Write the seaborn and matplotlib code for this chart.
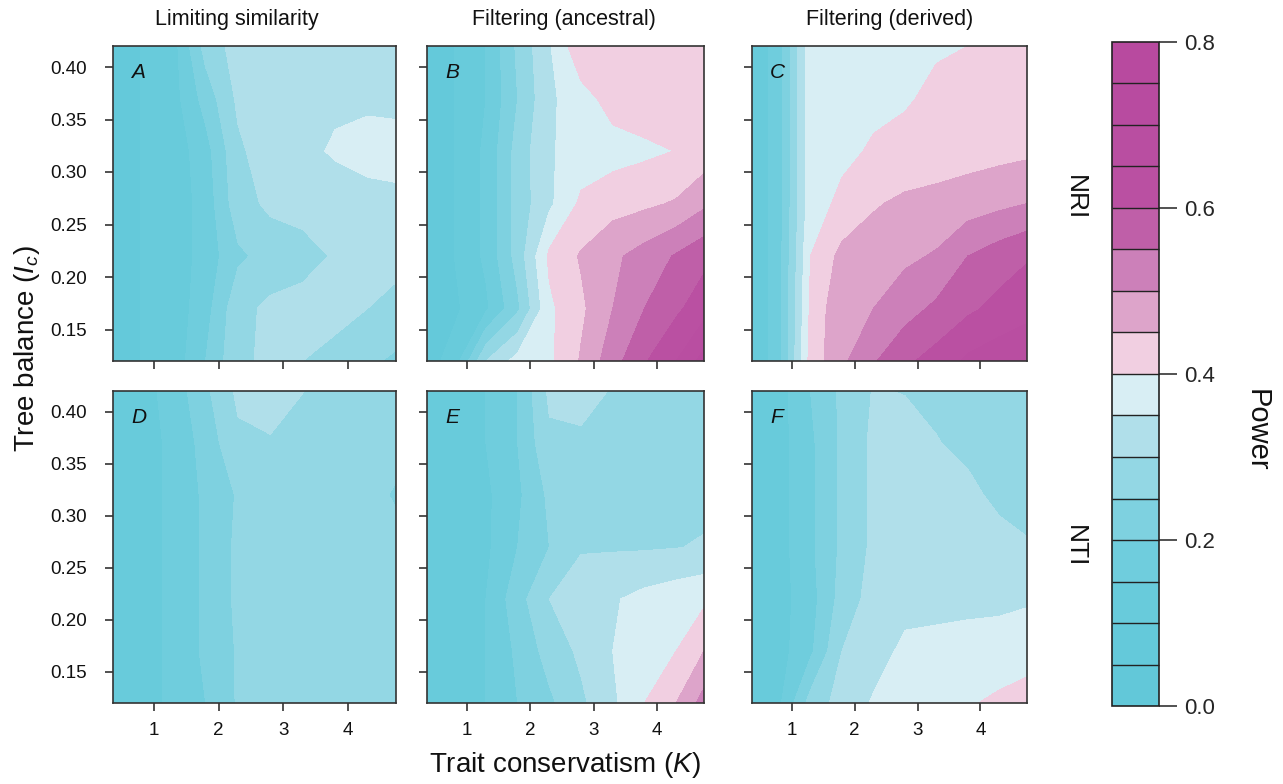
import numpy as np
import matplotlib
matplotlib.use("Agg")
import matplotlib.pyplot as plt
import seaborn as sns

# ---------------- data ----------------
K_values = [0.37, 0.8, 1.3, 1.8, 2.3, 2.8, 3.3, 3.8, 4.3, 4.74]
Ic_values = [0.42, 0.37, 0.32, 0.27, 0.22, 0.17, 0.12]  # rows of each grid, top to bottom

power_A = [
    [0.09, 0.10, 0.13, 0.27, 0.32, 0.33, 0.33, 0.33, 0.33, 0.33],
    [0.09, 0.10, 0.13, 0.22, 0.31, 0.33, 0.33, 0.34, 0.34, 0.33],
    [0.09, 0.10, 0.12, 0.18, 0.29, 0.33, 0.335, 0.357, 0.37, 0.38],
    [0.09, 0.10, 0.12, 0.17, 0.28, 0.31, 0.32, 0.32, 0.33, 0.33],
    [0.09, 0.10, 0.12, 0.17, 0.24, 0.27, 0.28, 0.305, 0.31, 0.31],
    [0.09, 0.10, 0.12, 0.18, 0.285, 0.31, 0.32, 0.31, 0.30, 0.29],
    [0.09, 0.10, 0.12, 0.20, 0.29, 0.31, 0.30, 0.29, 0.26, 0.24],
]
power_B = [
    [0.08, 0.10, 0.15, 0.26, 0.345, 0.44, 0.43, 0.43, 0.43, 0.43],
    [0.07, 0.10, 0.15, 0.25, 0.34, 0.38, 0.42, 0.43, 0.43, 0.43],
    [0.07, 0.10, 0.16, 0.27, 0.345, 0.37, 0.38, 0.39, 0.401, 0.42],
    [0.07, 0.10, 0.16, 0.27, 0.34, 0.41, 0.43, 0.44, 0.455, 0.49],
    [0.07, 0.10, 0.16, 0.27, 0.41, 0.455, 0.49, 0.52, 0.555, 0.585],
    [0.06, 0.09, 0.14, 0.24, 0.39, 0.44, 0.50, 0.55, 0.59, 0.63],
    [0.08, 0.12, 0.30, 0.37, 0.39, 0.455, 0.53, 0.595, 0.65, 0.72],
]
power_C = [
    [0.10, 0.18, 0.38, 0.385, 0.39, 0.39, 0.395, 0.40, 0.42, 0.43],
    [0.10, 0.18, 0.38, 0.385, 0.39, 0.395, 0.41, 0.42, 0.43, 0.44],
    [0.10, 0.18, 0.38, 0.39, 0.405, 0.415, 0.425, 0.43, 0.435, 0.44],
    [0.10, 0.18, 0.38, 0.41, 0.445, 0.46, 0.465, 0.475, 0.488, 0.50],
    [0.10, 0.18, 0.40, 0.465, 0.475, 0.49, 0.505, 0.55, 0.575, 0.595],
    [0.10, 0.18, 0.41, 0.49, 0.50, 0.53, 0.56, 0.59, 0.615, 0.63],
    [0.10, 0.18, 0.42, 0.49, 0.545, 0.59, 0.62, 0.66, 0.68, 0.70],
]
power_D = [
    [0.12, 0.13, 0.17, 0.24, 0.31, 0.31, 0.301, 0.28, 0.28, 0.28],
    [0.12, 0.13, 0.16, 0.22, 0.29, 0.298, 0.28, 0.28, 0.28, 0.28],
    [0.12, 0.13, 0.16, 0.21, 0.255, 0.28, 0.28, 0.28, 0.28, 0.24],
    [0.12, 0.13, 0.16, 0.21, 0.26, 0.28, 0.28, 0.28, 0.28, 0.28],
    [0.12, 0.13, 0.16, 0.21, 0.26, 0.28, 0.28, 0.28, 0.28, 0.28],
    [0.12, 0.13, 0.16, 0.21, 0.255, 0.28, 0.28, 0.28, 0.28, 0.28],
    [0.12, 0.13, 0.16, 0.20, 0.255, 0.28, 0.28, 0.28, 0.28, 0.28],
]
power_E = [
    [0.10, 0.12, 0.15, 0.20, 0.31, 0.31, 0.298, 0.28, 0.28, 0.28],
    [0.10, 0.12, 0.15, 0.20, 0.29, 0.295, 0.28, 0.28, 0.28, 0.28],
    [0.10, 0.12, 0.14, 0.19, 0.26, 0.28, 0.28, 0.28, 0.28, 0.285],
    [0.10, 0.12, 0.14, 0.20, 0.25, 0.295, 0.295, 0.295, 0.298, 0.305],
    [0.10, 0.12, 0.15, 0.23, 0.30, 0.33, 0.345, 0.365, 0.38, 0.39],
    [0.10, 0.12, 0.15, 0.21, 0.27, 0.31, 0.35, 0.38, 0.40, 0.45],
    [0.10, 0.12, 0.15, 0.20, 0.24, 0.29, 0.34, 0.40, 0.45, 0.52],
]
power_F = [
    [0.10, 0.13, 0.20, 0.26, 0.303, 0.298, 0.29, 0.28, 0.28, 0.27],
    [0.10, 0.13, 0.19, 0.26, 0.31, 0.32, 0.302, 0.29, 0.28, 0.27],
    [0.10, 0.13, 0.19, 0.26, 0.31, 0.325, 0.32, 0.31, 0.29, 0.28],
    [0.10, 0.13, 0.19, 0.26, 0.31, 0.33, 0.33, 0.32, 0.315, 0.305],
    [0.10, 0.13, 0.18, 0.27, 0.32, 0.335, 0.34, 0.34, 0.34, 0.345],
    [0.10, 0.13, 0.19, 0.30, 0.33, 0.36, 0.36, 0.365, 0.37, 0.375],
    [0.10, 0.14, 0.27, 0.32, 0.355, 0.37, 0.38, 0.395, 0.41, 0.425],
]

panel_letters = ["A", "B", "C", "D", "E", "F"]
column_titles = ["Limiting similarity", "Filtering (ancestral)", "Filtering (derived)"]
row_labels = ["NRI", "NTI"]
power_levels = [0.00, 0.05, 0.10, 0.15, 0.20, 0.25, 0.30, 0.35, 0.40,
                0.45, 0.50, 0.55, 0.60, 0.65, 0.70, 0.75, 0.80]
colorbar_ticks = [0.0, 0.2, 0.4, 0.6, 0.8]
x_ticks = [1, 2, 3, 4]
y_ticks = [0.15, 0.20, 0.25, 0.30, 0.35, 0.40]

# ---------------- style ----------------
bin_colors = ["#62C8D9", "#64C9DA", "#68CBDB", "#6FCDDD", "#7ED1E0", "#93D7E4",
              "#B0DFEA", "#D8EEF4", "#F1CFE1", "#DDA4CA", "#CC80B9", "#BF5FA8",
              "#BA50A2", "#B94EA1", "#B84BA0", "#B84A9F"]

sns.set_theme(style="ticks")
plt.rcParams['font.family'] = ['Liberation Sans', 'DejaVu Sans']
plt.rcParams['mathtext.fontset'] = 'custom'
plt.rcParams['mathtext.rm'] = 'Liberation Sans'
plt.rcParams['mathtext.it'] = 'Liberation Sans:italic'
plt.rcParams['text.color'] = '#111111'

W, H = 1283, 784
fig = plt.figure(figsize=(W / 100, H / 100), dpi=100)
fig.patch.set_facecolor("white")


def px_axes(l, t, r, b):
    return fig.add_axes([l / W, 1 - b / H, (r - l) / W, (b - t) / H])


cols = [(113, 396), (427, 704), (752, 1027)]
rows = [(46, 361), (391, 703)]
grids = [power_A, power_B, power_C, power_D, power_E, power_F]

Kg, Ig = np.meshgrid(np.array(K_values), np.array(Ic_values)[::-1])
mappable = None
for i, grid in enumerate(grids):
    r, c = divmod(i, 3)
    ax = px_axes(cols[c][0], rows[r][0], cols[c][1], rows[r][1])
    Z = np.array(grid)[::-1]
    cs = ax.contourf(Kg, Ig, Z, levels=power_levels, colors=bin_colors,
                     antialiased=False)
    if mappable is None:
        mappable = cs
    ax.set_xlim(K_values[0], K_values[-1])
    ax.set_ylim(Ic_values[-1], Ic_values[0])
    ax.set_xticks(x_ticks)
    ax.set_yticks(y_ticks)
    ax.tick_params(direction="out", length=5.5, width=1.1, color="#222222",
                   labelsize=13.5, labelcolor="#111111")
    ax.tick_params(axis="y", pad=13)
    ax.tick_params(axis="x", pad=8)
    for sp in ax.spines.values():
        sp.set_linewidth(1.2)
        sp.set_color("#333333")
        sp.set_visible(True)
    if c == 0:
        ax.set_yticklabels([f"{v:.2f}" for v in y_ticks])
    else:
        ax.set_yticklabels([])
    if r == 0:
        ax.set_xticklabels([])
    else:
        ax.set_xticklabels([str(v) for v in x_ticks])
    ax.text(0.065, 0.915, panel_letters[i], transform=ax.transAxes,
            fontstyle="italic", fontsize=15, ha="left", va="center")

# column titles
for x, t in zip([237, 564, 890], column_titles):
    fig.text(x / W, 1 - 20 / H, t, ha="center", va="center", fontsize=15.5)

# row labels
for y, t in zip([198, 546], row_labels):
    fig.text(1075 / W, 1 - y / H, t, rotation=-90, ha="center", va="center",
             fontsize=19)

# axis labels
fig.text(565 / W, 1 - 765 / H, r"Trait conservatism ($\mathit{K}$)",
         ha="center", va="center", fontsize=20)
fig.text(27 / W, 1 - 349 / H, r"Tree balance ($\mathit{I_c}$)",
         ha="center", va="center", rotation=90, fontsize=20)

# colorbar
cax = px_axes(1112, 42, 1159, 706)
cb = fig.colorbar(mappable, cax=cax, ticks=colorbar_ticks, drawedges=True)
cb.ax.set_yticklabels([f"{v:.1f}" for v in colorbar_ticks])
cb.ax.tick_params(length=13, width=1.1, labelsize=16, pad=5, color="#222222")
cb.outline.set_linewidth(1.2)
cb.outline.set_edgecolor("#222222")
cb.dividers.set_linewidth(1.0)
cb.dividers.set_color("#222222")
fig.text(1257 / W, 1 - 430 / H, "Power", rotation=-90, ha="center",
         va="center", fontsize=21)

fig.savefig("out.png", dpi=100, facecolor="white")
